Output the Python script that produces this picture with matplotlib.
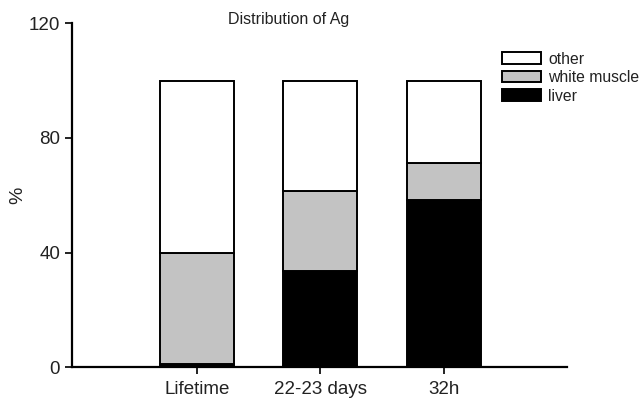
import matplotlib.pyplot as plt
import numpy as np

plt.rcParams['font.family'] = ['Liberation Sans', 'DejaVu Sans']

# data
groups = ["Lifetime", "22-23 days", "32h"]
liver = [1.0, 33.5, 58.2]
white_muscle = [39.0, 28.0, 13.0]
other = [60.0, 38.5, 28.8]

fig = plt.figure(figsize=(6.43, 3.99), dpi=100)
ax = fig.add_axes([0.112, 0.0794, 0.770, 0.8626])

x = np.arange(len(groups))
w = 0.6
lw = 1.4
ax.bar(x, liver, w, color="black", edgecolor="black", linewidth=lw, label="liver")
ax.bar(x, white_muscle, w, bottom=liver, color="#c3c3c3", edgecolor="black",
       linewidth=lw, label="white muscle")
bottom2 = np.array(liver) + np.array(white_muscle)
ax.bar(x, other, w, bottom=bottom2, color="white", edgecolor="black",
       linewidth=lw, label="other")

ax.set_xlim(-1.01, 3.0)
ax.set_ylim(0, 120)
ax.set_yticks([0, 40, 80, 120])
ax.set_xticks(x)
ax.set_xticklabels(groups)
ax.tick_params(labelsize=13.5, width=1.4, length=5, direction="out",
               colors="#222222")
ax.tick_params(axis="x", pad=5)
for s in ["top", "right"]:
    ax.spines[s].set_visible(False)
for s in ["left", "bottom"]:
    ax.spines[s].set_linewidth(1.6)

ax.set_ylabel("%", fontsize=14, color="#222222")
ax.yaxis.set_label_coords(-0.092, 0.5)

fig.text(0.449, 0.95, "Distribution of Ag", ha="center", va="center",
         fontsize=11.5, color="#222222")

handles, labels = ax.get_legend_handles_labels()
leg = ax.legend(handles[::-1], labels[::-1], loc="upper left",
                bbox_to_anchor=(0.868, 0.917), frameon=False, fontsize=11.3,
                handlelength=2.5, handleheight=0.75, labelspacing=0.22,
                handletextpad=0.45, borderaxespad=0, borderpad=0)
for t in leg.get_texts():
    t.set_color("#222222")

fig.savefig("out.png", dpi=100)
